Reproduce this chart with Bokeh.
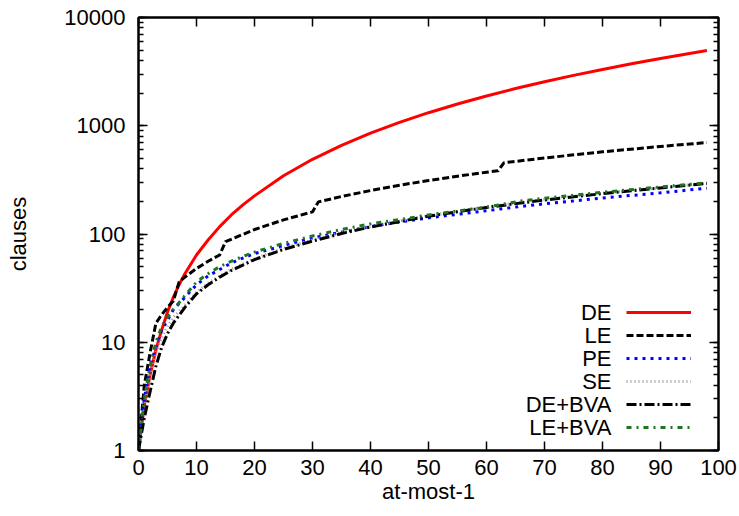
from bokeh.plotting import figure
from bokeh.models import (LogAxis, LinearAxis, LogTicker, SingleIntervalTicker,
                          PrintfTickFormatter, Range1d, Label, Legend, LegendItem)
from bokeh.core.properties import value
from bokeh.embed import file_html
from bokeh.resources import INLINE

# ---- data ----
de_x = [0, 1, 2, 3, 4, 5, 6, 7, 8, 10, 12, 14, 16, 18, 20, 25, 30, 35, 40, 45,
        50, 55, 60, 65, 70, 75, 80, 85, 90, 95, 98]
de_y = [1, 2.6, 5, 8.5, 13, 19, 26, 34, 43, 64, 88, 117, 150, 186, 225, 345, 490,
        660, 855, 1075, 1320, 1590, 1885, 2205, 2550, 2920, 3315, 3735, 4180, 4650, 4950]

le_x = [0, 1, 2, 3, 4, 5, 6, 7, 8, 10, 12, 14, 15, 20, 25, 30, 31, 35, 40, 45,
        50, 55, 60, 62, 63, 70, 80, 90, 98]
le_y = [1, 4, 8, 15, 18, 21, 24, 36, 40, 48, 56, 64, 85, 110, 135, 160, 198, 222,
        252, 282, 312, 342, 372, 384, 455, 504, 574, 644, 700]

pe_x = [0, 1, 2, 3, 4, 5, 6, 8, 10, 12, 14, 16, 18, 20, 25, 30, 35, 40, 45, 50,
        55, 60, 66, 70, 80, 90, 98]
pe_y = [1, 3, 6, 9, 13, 16, 20, 26, 34, 41, 47, 54, 60, 66, 78, 92, 104, 117,
        129, 141, 152, 164, 180, 190, 215, 240, 265]

se_x = [0, 1, 2, 3, 4, 5, 6, 8, 10, 12, 14, 16, 20, 25, 30, 35, 40, 50, 60, 70,
        80, 90, 98]
se_y = [1, 2.5, 5, 8, 11, 14, 17, 22, 29, 35, 41, 47, 59, 74, 88, 103, 118, 148,
        178, 208, 238, 268, 295]

debva_x = [0, 1, 2, 3, 4, 5, 6, 8, 10, 12, 14, 16, 20, 25, 30, 35, 40, 50, 60,
           70, 80, 90, 98]
debva_y = [1, 2, 3.5, 6, 9, 12, 15, 21, 28, 34, 40, 46, 58, 72, 86, 101, 116, 146,
           176, 206, 236, 266, 293]

lebva_x = [0, 1, 2, 3, 4, 5, 6, 8, 10, 12, 14, 16, 18, 20, 25, 30, 35, 40, 45,
           50, 55, 60, 66, 70, 80, 90, 98]
lebva_y = [1, 3, 6, 10, 14, 17, 20, 27, 36, 43, 50, 56, 62, 68, 82, 96, 110, 124,
           136, 150, 163, 177, 202, 214, 243, 272, 297]

series_names = ["DE", "LE", "PE", "SE", "DE+BVA", "LE+BVA"]
x_ticks_interval = 10
FONT = "Liberation Sans"
FS = "22px"

p = figure(width=739, height=516, x_range=Range1d(0, 100), y_range=Range1d(1, 10000),
           y_axis_type="log", output_backend="svg", toolbar_location=None,
           min_border_left=138, min_border_right=21, min_border_top=17,
           min_border_bottom=66)

p.xgrid.visible = False
p.ygrid.visible = False
p.outline_line_color = "black"
p.outline_line_width = 2
p.background_fill_color = "white"
p.border_fill_color = "white"

xa = p.xaxis[0]
xa.ticker = SingleIntervalTicker(interval=x_ticks_interval)
xa.axis_label = "at-most-1"
ya = p.yaxis[0]
ya.ticker = LogTicker(num_minor_ticks=10)
ya.formatter = PrintfTickFormatter(format="%d")
ya.axis_label = "clauses"

for ax in (xa, ya):
    ax.axis_line_width = 2
    ax.major_tick_in = 9
    ax.major_tick_out = 0
    ax.minor_tick_in = 5
    ax.minor_tick_out = 0
    ax.major_tick_line_width = 1.5
    ax.minor_tick_line_width = 1.5
    ax.major_label_text_font = FONT
    ax.major_label_text_font_size = FS
    ax.major_label_text_color = "black"
    ax.axis_label_text_font = FONT
    ax.axis_label_text_font_size = FS
    ax.axis_label_text_font_style = "normal"
    ax.axis_label_text_color = "black"
xa.minor_tick_line_color = None
xa.major_label_standoff = 9
xa.axis_label_standoff = 1
ya.major_label_standoff = 13
ya.axis_label_standoff = 30

top = LinearAxis(ticker=SingleIntervalTicker(interval=x_ticks_interval),
                 major_label_text_color=None, major_label_text_font_size="0px",
                 major_label_standoff=0, major_tick_in=9, major_tick_out=0,
                 minor_tick_line_color=None, axis_line_width=2,
                 major_tick_line_width=1.5)
p.add_layout(top, "above")
right = LogAxis(ticker=LogTicker(num_minor_ticks=10),
                major_label_text_color=None, major_label_text_font_size="0px",
                major_label_standoff=0, major_tick_in=9, major_tick_out=0,
                minor_tick_in=5, minor_tick_out=0, axis_line_width=2,
                major_tick_line_width=1.5, minor_tick_line_width=1.5)
p.add_layout(right, "right")

styles = [
    dict(color="#ff0000", line_width=3),
    dict(color="black", line_width=3, line_dash="7 3"),
    dict(color="#0000ff", line_width=3, line_dash="3 5"),
    dict(color="#a0a0a0", line_width=3, line_dash="1 3"),
    dict(color="black", line_width=3, line_dash="10 3 2 3"),
    dict(color="#207520", line_width=3, line_dash="5 5 2 5"),
]
data = [(de_x, de_y), (le_x, le_y), (pe_x, pe_y), (se_x, se_y),
        (debva_x, debva_y), (lebva_x, lebva_y)]
renderers = []
for (xs, ys), st in zip(data, styles):
    renderers.append(p.line(xs, ys, **st))

# gnuplot-style key: sample lines from a legend, texts right-aligned to their left
lg = Legend(items=[LegendItem(label=value(""), renderers=[r]) for r in renderers],
            location=(488, 13), border_line_color=None, background_fill_alpha=0,
            label_standoff=0, label_width=0, glyph_width=65, glyph_height=20,
            label_height=20, spacing=3, padding=0, margin=0,
            label_text_font_size="12px")
p.add_layout(lg)

for i, name in enumerate(series_names):
    p.add_layout(Label(x=473, y=23 + 23 * (len(series_names) - 1 - i),
                       x_units="screen", y_units="screen", text=name,
                       text_align="right", text_baseline="middle",
                       text_font=FONT, text_font_size=FS, text_color="black"))

open("out.html", "w").write(file_html(p, INLINE))
